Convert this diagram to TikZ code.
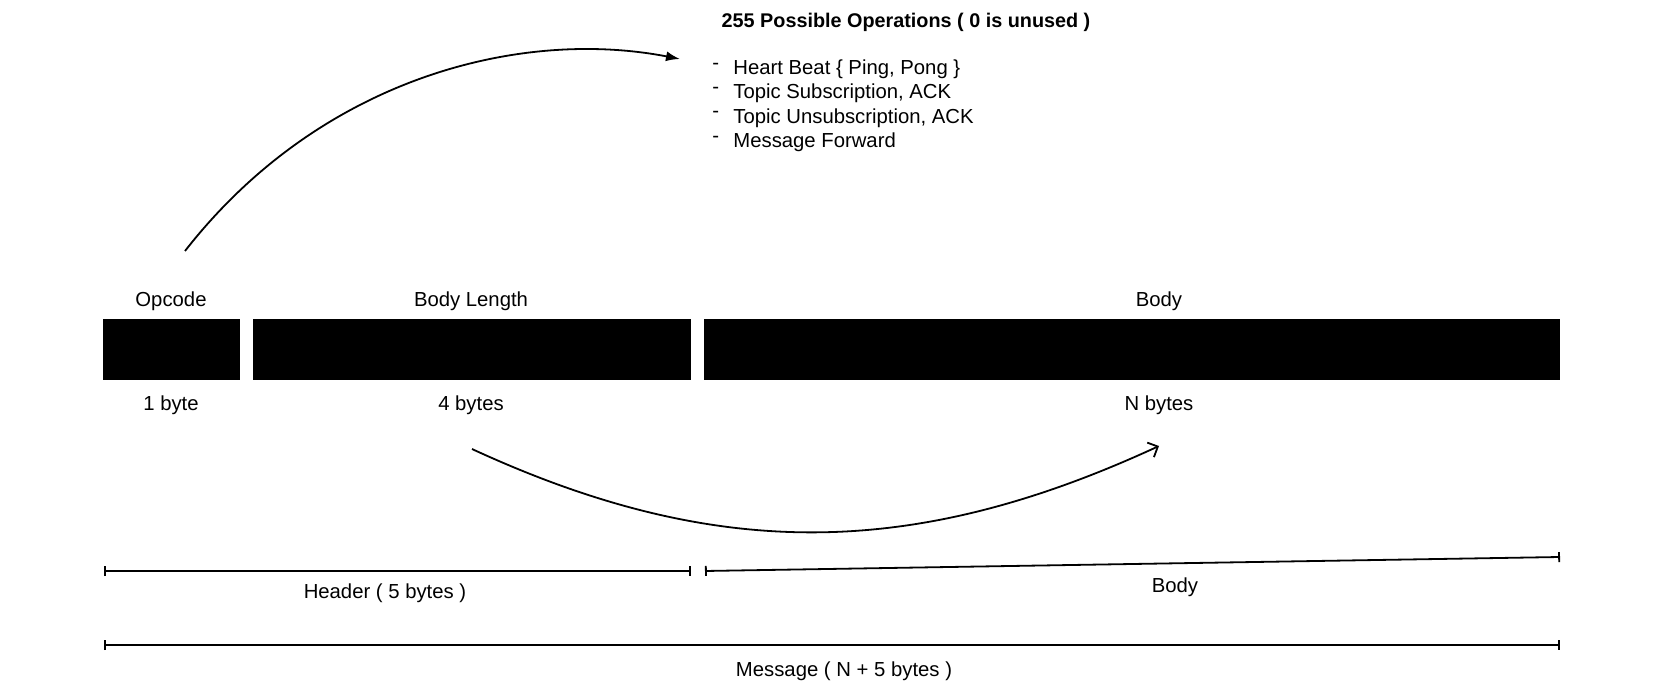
\documentclass[tikz,border=0pt]{standalone}
\usepackage{fontspec}
\setmainfont{Liberation Sans}
\usetikzlibrary{arrows.meta}

\begin{document}
\begin{tikzpicture}[x=0.5pt,y=-0.5pt,
    lbl/.style={font=\fontsize{10.15}{12}\selectfont, inner sep=0pt},
    bar/.style={fill=black, inner sep=0pt, minimum height=30.5pt},
    span/.style={line width=0.9pt, {Bar[width=5pt]}-{Bar[width=5pt]}},
    flow/.style={line width=0.9pt}]
    \useasboundingbox (0,0) rectangle (1667,695);

    % Operations
    \node[lbl, font=\fontsize{9.9}{12}\selectfont\bfseries] (ops) at (906,22) {255 Possible Operations ( 0 is unused )};
    \foreach \txt [count=\i] in {{Heart Beat \{ Ping, Pong \}}, {Topic Subscription, ACK}, {Topic Unsubscription, ACK}, {Message Forward}} {
        \node[lbl, anchor=west] (dash\i) at (712, 41.6+24.4*\i) {-};
        \node[lbl, anchor=west] (op\i) at (733, 44.6+24.4*\i) {\txt};
    }

    % Message fields
    \node[bar, minimum width=68.5pt] (opcode) at (171.5,349.5) {};
    \node[bar, minimum width=219pt] (bodylen) at (472,349.5) {};
    \node[bar, minimum width=428pt] (body) at (1132,349.5) {};

    \node[lbl] (opname) at (171,301) {Opcode};
    \node[lbl] (lenname) at (471,301) {Body Length};
    \node[lbl] (bodyname) at (1159,301) {Body};

    \node[lbl] (opsize) at (171,405) {1 byte};
    \node[lbl] (lensize) at (471,405) {4 bytes};
    \node[lbl] (bodysize) at (1159,405) {N bytes};

    % Arrows
    \coordinate (opsrc) at (185,251);
    \coordinate (opdst) at (680,59);
    \draw[flow, -{Latex[length=7pt,width=5pt]}] (opsrc) .. controls (320,78) and (520,28) .. (opdst);

    \coordinate (lensrc) at (472,449);
    \coordinate (lendst) at (1159,446);
    \draw[flow, -{Straight Barb[length=4pt,width=8pt]}] (lensrc) .. controls (717,562) and (914,559) .. (lendst);

    % Spans
    \coordinate (hdrL) at (104,571);
    \coordinate (hdrR) at (691,571);
    \coordinate (bdyL) at (705,571);
    \coordinate (bdyR) at (1560,557);
    \coordinate (msgL) at (104,645);
    \coordinate (msgR) at (1560,645);
    \draw[span] (hdrL) -- (hdrR);
    \draw[span] (bdyL) -- (bdyR);
    \draw[span] (msgL) -- (msgR);
    \node[lbl] (hdrname) at (385,593) {Header ( 5 bytes )};
    \node[lbl] (bdyspan) at (1175,587) {Body};
    \node[lbl] (msgname) at (844,671) {Message ( N + 5 bytes )};
\end{tikzpicture}
\end{document}
